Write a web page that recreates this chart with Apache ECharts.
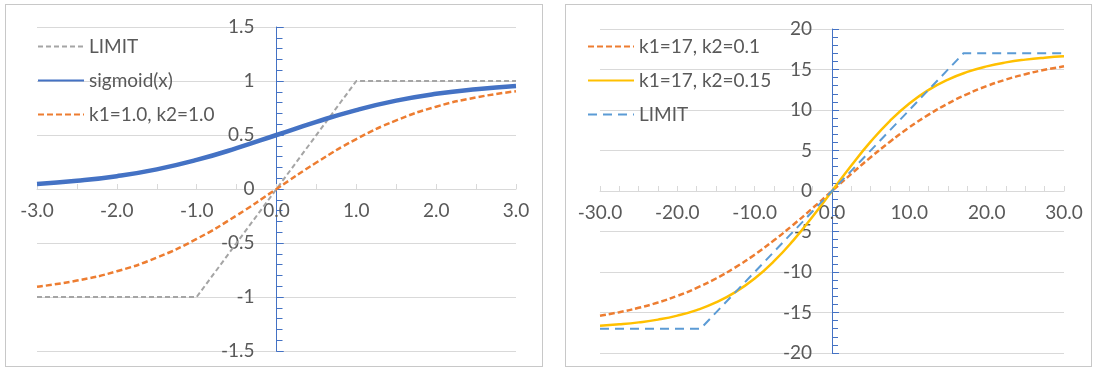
<!DOCTYPE html>
<html>
<head>
<meta charset="utf-8">
<script src="https://cdn.jsdelivr.net/npm/echarts@6/dist/echarts.min.js"></script>
<style>
  html, body { margin: 0; padding: 0; background: #fff; }
  #wrap { position: relative; width: 1095px; height: 369px; }
  #chart { width: 1095px; height: 369px; }
  .frame { position: absolute; border: 1px solid #C8C8C8; pointer-events: none; box-sizing: border-box; }
</style>
</head>
<body>
<div id="wrap">
  <div id="chart"></div>
  <div class="frame" style="left:5px; top:4px; width:538px; height:363px;"></div>
  <div class="frame" style="left:565px; top:4px; width:527px; height:363px;"></div>
</div>
<script>
// left panel data
const xLeft = [-3, -2.5, -2, -1.5, -1, -0.5, 0, 0.5, 1, 1.5, 2, 2.5, 3];
const sigmoidVals = [0.047, 0.076, 0.119, 0.182, 0.269, 0.378, 0.5, 0.622, 0.731, 0.818, 0.881, 0.924, 0.953];
const k1k2Vals = [-0.905, -0.848, -0.762, -0.635, -0.462, -0.245, 0, 0.245, 0.462, 0.635, 0.762, 0.848, 0.905];
const limitLeftX = [-3, -1, 1, 3];
const limitLeftY = [-1, -1, 1, 1];

// right panel data
const xRight = [-30, -27.5, -25, -22.5, -20, -17.5, -15, -12.5, -10, -7.5, -5, -2.5, 0,
  2.5, 5, 7.5, 10, 12.5, 15, 17.5, 20, 22.5, 25, 27.5, 30];
const k2_01 = [-15.39, -14.96, -14.42, -13.76, -12.95, -11.97, -10.80, -9.43, -7.86, -6.09, -4.16, -2.11, 0,
  2.11, 4.16, 6.09, 7.86, 9.43, 10.80, 11.97, 12.95, 13.76, 14.42, 14.96, 15.39];
const k2_015 = [-16.63, -16.46, -16.22, -15.88, -15.39, -14.70, -13.76, -12.48, -10.80, -8.67, -6.09, -3.15, 0,
  3.15, 6.09, 8.67, 10.80, 12.48, 13.76, 14.70, 15.39, 15.88, 16.22, 16.46, 16.63];
const limitRightX = [-30, -17, 17, 30];
const limitRightY = [-17, -17, 17, 17];

const pairs = (xs, ys) => xs.map((x, i) => [x, ys[i]]);

const FONT = "Lato";
const FS = 19;
const TXT = "#595959";
const GRID_LINE = "#D9D9D9";
const AXIS_BLUE = "#4472C4";

// plot areas
const gridL = { left: 37, top: 27, width: 479, height: 324 };
const gridR = { left: 600, top: 29, width: 464, height: 324 };

// axes cross at zero: shift them from the grid edge to the zero position
const zeroShift = (size, min, max) => -size * (0 - min) / (max - min);

const xAxisBase = (gridIndex, min, max, interval, minorSplit, g, ymin, ymax) => ({
  type: "value",
  gridIndex: gridIndex,
  min: min,
  max: max,
  interval: interval,
  offset: zeroShift(g.height, ymin, ymax),
  axisLine: { onZero: false, lineStyle: { color: GRID_LINE, width: 1 } },
  axisTick: { show: true, inside: true, length: 5, lineStyle: { color: GRID_LINE } },
  minorTick: { show: true, splitNumber: minorSplit, length: 5, lineStyle: { color: GRID_LINE } },
  splitLine: { show: false },
  axisLabel: {
    color: TXT, fontFamily: FONT, fontSize: FS, margin: 12,
    formatter: (v) => v.toFixed(1),
  },
});

const yAxisBase = (gridIndex, min, max, interval, minorSplit, margin, g, xmin, xmax) => ({
  type: "value",
  gridIndex: gridIndex,
  min: min,
  max: max,
  interval: interval,
  offset: zeroShift(g.width, xmin, xmax),
  axisLine: { show: true, onZero: false, lineStyle: { color: AXIS_BLUE, width: 1 } },
  axisTick: { show: true, inside: true, length: 7, lineStyle: { color: AXIS_BLUE } },
  minorTick: { show: true, splitNumber: minorSplit, length: 6, lineStyle: { color: AXIS_BLUE } },
  splitLine: { show: true, lineStyle: { color: GRID_LINE, width: 1 } },
  axisLabel: { color: TXT, fontFamily: FONT, fontSize: FS, margin: margin },
});

// extra axis only for the outer half of the major ticks (they cross the line)
const yTickCross = (gridIndex, min, max, interval, g, xmin, xmax) => ({
  type: "value",
  gridIndex: gridIndex,
  min: min,
  max: max,
  interval: interval,
  offset: zeroShift(g.width, xmin, xmax),
  axisLine: { show: false, onZero: false },
  axisTick: { show: true, inside: false, length: 7, lineStyle: { color: AXIS_BLUE } },
  splitLine: { show: false },
  axisLabel: { show: false },
});

const legendBase = (left, names) => ({
  orient: "vertical",
  left: left,
  top: 37,
  padding: 0,
  itemWidth: 46,
  itemHeight: 14,
  itemGap: 15,
  data: names,
  itemStyle: { opacity: 0, borderWidth: 0 },
  textStyle: { color: TXT, fontFamily: FONT, fontSize: FS, lineHeight: 18 },
});

const chart = echarts.init(document.getElementById("chart"));
chart.setOption({
  animation: false,
  backgroundColor: "#fff",
  grid: [
    { left: gridL.left, top: gridL.top, width: gridL.width, height: gridL.height, outerBoundsMode: "none" },
    { left: gridR.left, top: gridR.top, width: gridR.width, height: gridR.height, outerBoundsMode: "none" },
  ],
  legend: [
    legendBase(37, ["LIMIT", "sigmoid(x)", "k1=1.0, k2=1.0"]),
    legendBase(587, ["k1=17, k2=0.1", "k1=17, k2=0.15", "LIMIT "]),
  ],
  xAxis: [
    xAxisBase(0, -3, 3, 1, 2, gridL, -1.5, 1.5),
    xAxisBase(1, -30, 30, 10, 4, gridR, -20, 20),
  ],
  yAxis: [
    yAxisBase(0, -1.5, 1.5, 0.5, 5, 22, gridL, -3, 3),
    yAxisBase(1, -20, 20, 5, 5, 20, gridR, -30, 30),
    yTickCross(0, -1.5, 1.5, 0.5, gridL, -3, 3),
    yTickCross(1, -20, 20, 5, gridR, -30, 30),
  ],
  series: [
    {
      name: "LIMIT", type: "line", xAxisIndex: 0, yAxisIndex: 0, symbol: "none",
      data: pairs(limitLeftX, limitLeftY),
      lineStyle: { color: "#A5A5A5", width: 2, type: [5, 3] }, itemStyle: { color: "#A5A5A5" },
    },
    {
      name: "sigmoid(x)", type: "line", xAxisIndex: 0, yAxisIndex: 0, symbol: "none", smooth: true,
      data: pairs(xLeft, sigmoidVals),
      lineStyle: { color: AXIS_BLUE, width: 4.5 }, itemStyle: { color: AXIS_BLUE },
    },
    {
      name: "k1=1.0, k2=1.0", type: "line", xAxisIndex: 0, yAxisIndex: 0, symbol: "none", smooth: true,
      data: pairs(xLeft, k1k2Vals),
      lineStyle: { color: "#ED7D31", width: 2.5, type: [6, 3] }, itemStyle: { color: "#ED7D31" },
    },
    {
      name: "k1=17, k2=0.1", type: "line", xAxisIndex: 1, yAxisIndex: 1, symbol: "none", smooth: true,
      data: pairs(xRight, k2_01),
      lineStyle: { color: "#ED7D31", width: 2.5, type: [6, 3] }, itemStyle: { color: "#ED7D31" },
    },
    {
      name: "k1=17, k2=0.15", type: "line", xAxisIndex: 1, yAxisIndex: 1, symbol: "none", smooth: true,
      data: pairs(xRight, k2_015),
      lineStyle: { color: "#FFC000", width: 2.5 }, itemStyle: { color: "#FFC000" },
    },
    {
      name: "LIMIT ", type: "line", xAxisIndex: 1, yAxisIndex: 1, symbol: "none",
      data: pairs(limitRightX, limitRightY),
      lineStyle: { color: "#5B9BD5", width: 2, type: [9, 6] }, itemStyle: { color: "#5B9BD5" },
    },
  ],
});
</script>
</body>
</html>
